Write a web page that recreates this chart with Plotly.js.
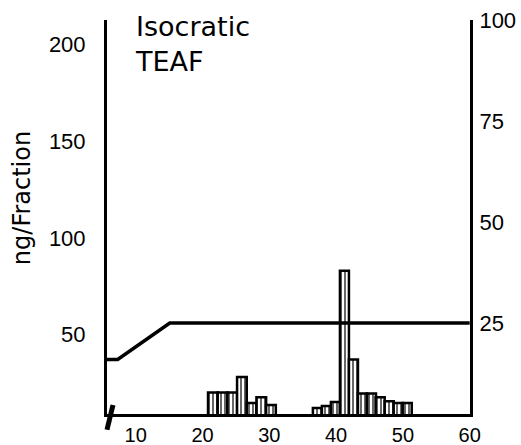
<!DOCTYPE html>
<html>
<head>
<meta charset="utf-8">
<script src="https://cdn.plot.ly/plotly-3.0.1.min.js"></script>
<style>html,body{margin:0;padding:0;background:#fff;}#chart{width:521px;height:445px;}</style>
</head>
<body>
<div id="chart"></div>
<script>
// Fraction positions (x) and ng per fraction (left axis)
const group1X = [21.55, 23.0, 24.45, 25.9, 27.35, 28.8, 30.25];
const group1Ng = [20, 20, 20, 28, 14.5, 17.5, 13.5];
const group2X = [37.2, 38.55, 39.9, 41.25, 42.6, 43.95, 45.3, 46.6, 47.95, 49.3, 50.65];
const group2Ng = [12, 13, 15, 83, 37, 19.5, 19.5, 17.5, 15.5, 14.5, 14.5];
// Gradient profile (right axis, %)
const gradX = [5.7, 7.3, 15.1, 60];
const gradPct = [16, 16, 25, 25];
// Tick labels
const xTicks = [10, 20, 30, 40, 50, 60];
const yTicks = [50, 100, 150, 200];
const y2Ticks = [25, 50, 75, 100];

const barStyle = {
  color: '#fff',
  line: {color: '#000', width: 2.5},
  pattern: {shape: '|', fgcolor: '#000', bgcolor: '#fff', size: 4, solidity: 0.3}
};

const traces = [
  {type: 'bar', x: group1X, y: group1Ng, width: 1.45, marker: barStyle, yaxis: 'y', showlegend: false},
  {type: 'bar', x: group2X, y: group2Ng, width: 1.35, marker: barStyle, yaxis: 'y', showlegend: false},
  {type: 'scatter', mode: 'lines', x: gradX, y: gradPct, yaxis: 'y2',
   line: {color: '#000', width: 3.5}, showlegend: false}
];

const tickFont = {family: 'Liberation Sans, Arial, sans-serif', size: 22, color: '#000'};
const xTickFont = {family: 'Liberation Sans, Arial, sans-serif', size: 20, color: '#000'};

const layout = {
  width: 521, height: 445,
  margin: {l: 107, r: 51, t: 20, b: 31},
  paper_bgcolor: '#fff', plot_bgcolor: '#fff',
  showlegend: false,
  bargap: 0,
  xaxis: {
    range: [5.7, 60.05], tickvals: xTicks, ticks: '', showgrid: false, zeroline: false,
    showline: true, linecolor: '#000', linewidth: 3, tickfont: xTickFont, ticklabelstandoff: 1
  },
  yaxis: {
    range: [8.85, 212.7], tickvals: yTicks, ticks: '', showgrid: false, zeroline: false,
    showline: true, linecolor: '#000', linewidth: 3, tickfont: tickFont, ticklabelstandoff: 14
  },
  yaxis2: {
    overlaying: 'y', side: 'right', range: [2.5, 100], tickvals: y2Ticks, ticks: '',
    showgrid: false, zeroline: false, showline: true, linecolor: '#000', linewidth: 3,
    tickfont: tickFont, ticklabelstandoff: 2
  },
  annotations: [
    {xref: 'paper', yref: 'paper', x: 0.072, y: 1.027, xanchor: 'left', yanchor: 'top',
     text: 'Isocratic<br>TEAF', align: 'left', showarrow: false,
     font: {family: 'DejaVu Sans, sans-serif', size: 27, color: '#000'}},
    {xref: 'paper', yref: 'paper', x: -0.234, y: 0.548, xanchor: 'center', yanchor: 'middle',
     text: 'ng/Fraction', textangle: -90, showarrow: false,
     font: {family: 'DejaVu Sans, sans-serif', size: 24, color: '#000'}}
  ],
  shapes: [
    {type: 'line', xref: 'paper', yref: 'paper', x0: 0.0165, y0: 0.0228, x1: 0.0, y1: -0.04,
     line: {color: '#000', width: 5}}
  ]
};

Plotly.newPlot('chart', traces, layout, {displayModeBar: false, staticPlot: true});
</script>
</body>
</html>
